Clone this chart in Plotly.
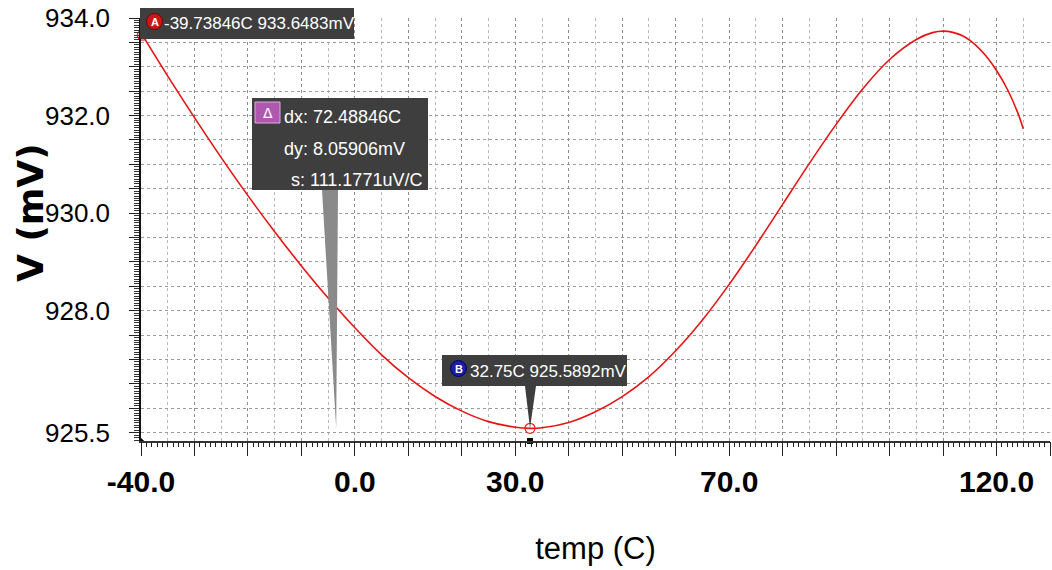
import plotly.graph_objects as go

# ---------------- data ----------------
temp_c = [-39.74, -35, -30, -25, -20, -15, -10, -5, 0, 5, 10, 15, 20, 25, 30, 32.75,
          35, 40, 45, 50, 55, 60, 65, 70, 75, 80, 85, 90, 95, 100, 105, 108, 110,
          112, 114, 116, 118, 120, 122, 124, 125]
v_mv = [933.648, 932.809, 931.957, 931.139, 930.359, 929.619, 928.919, 928.262, 927.652,
        927.097, 926.627, 926.242, 925.942, 925.727, 925.612, 925.589, 925.600, 925.710,
        925.930, 926.240, 926.650, 927.180, 927.810, 928.540, 929.340, 930.180, 931.020,
        931.820, 932.550, 933.150, 933.560, 933.700, 933.730, 933.700, 933.615, 933.455,
        933.225, 932.925, 932.545, 932.050, 931.730]

marker_names = ["A", "B"]
marker_x = [-39.73846, 32.75]
marker_y = [933.6483, 925.5892]
marker_text = ["-39.73846C 933.6483mV", "32.75C 925.5892mV"]
delta_text = ["dx: 72.48846C", "dy: 8.05906mV", "s: 111.1771uV/C"]

x_label_vals = [-40, 0, 30, 70, 120]
x_label_text = ["-40.0", "0.0", "30.0", "70.0", "120.0"]
y_label_vals = [934.0, 932.0, 930.0, 928.0, 925.5]
y_label_text = ["934.0", "932.0", "930.0", "928.0", "925.5"]

X_RANGE = [-40, 130]
Y_RANGE = [925.33, 934.0]

# ---------------- geometry ----------------
W, H = 1052, 570
ML, MR, MT, MB = 141, 2, 18, 129
PW, PH = W - ML - MR, H - MT - MB
FONT = "Liberation Sans, Arial, sans-serif"


def pp(px, py):
    return (px - ML) / PW, (H - MB - py) / PH


def dpx(x):
    return (x - X_RANGE[0]) / (X_RANGE[1] - X_RANGE[0])


def dpy(y):
    return (y - Y_RANGE[0]) / (Y_RANGE[1] - Y_RANGE[0])


x_tick_vals = list(range(-40, 131, 10))
x_tick_text = [x_label_text[x_label_vals.index(v)] if v in x_label_vals else "" for v in x_tick_vals]
y_tick_vals = [round(925.5 + 0.5 * i, 2) for i in range(18)]
y_tick_text = [y_label_text[y_label_vals.index(v)] if v in y_label_vals else "" for v in y_tick_vals]

fig = go.Figure()

fig.add_trace(go.Scatter(x=temp_c, y=v_mv, mode="lines",
                         line=dict(color="#e61414", width=1.6, shape="spline", smoothing=0.8),
                         showlegend=False))

# carrier for the fine-tick overlay axis (invisible markers)
fig.add_trace(go.Scatter(x=marker_x, y=marker_y, xaxis="x2", mode="markers",
                         marker=dict(size=1, opacity=0), hoverinfo="skip", showlegend=False))

fig.add_trace(go.Scatter(x=marker_x, y=marker_y, mode="markers",
                         marker=dict(symbol="circle-open", size=10, color="#ff2020",
                                     line=dict(width=1.3, color="#ff2020")),
                         cliponaxis=False, showlegend=False))

fig.add_trace(go.Scatter(x=marker_x, y=[Y_RANGE[0]] * len(marker_x), mode="markers",
                         marker=dict(symbol=["triangle-sw", "square"], size=6, color="black"),
                         cliponaxis=False, showlegend=False))

shapes = []
BOX = "#3e3e3e"


def rect(x0, y0, x1, y1, fill, line=None):
    a = pp(x0, y1)
    b = pp(x1, y0)
    shapes.append(dict(type="rect", xref="paper", yref="paper", x0=a[0], y0=a[1], x1=b[0], y1=b[1],
                       fillcolor=fill, line=dict(width=1 if line else 0, color=line or fill),
                       layer="above"))


def circ(cx, cy, r, fill, line):
    a = pp(cx - r, cy + r)
    b = pp(cx + r, cy - r)
    shapes.append(dict(type="circle", xref="paper", yref="paper", x0=a[0], y0=a[1], x1=b[0], y1=b[1],
                       fillcolor=fill, line=dict(width=1, color=line), layer="above"))


def wedge(xa, xb, ybase, ax_data, ay_data, fill):
    p1 = pp(xa, ybase)
    p2 = pp(xb, ybase)
    ax, ay = dpx(ax_data), dpy(ay_data)
    path = f"M {p1[0]} {p1[1]} L {p2[0]} {p2[1]} L {ax} {ay} Z"
    shapes.append(dict(type="path", xref="paper", yref="paper", path=path,
                       fillcolor=fill, line=dict(width=0), layer="above"))


# A label
rect(140, 8, 354, 39, BOX)
circ(154.5, 21.5, 8, "#c81818", "#7a0000")
# delta label
mid_x = (marker_x[0] + marker_x[1]) / 2
wedge(322, 338, 190, mid_x, marker_y[1], "#8a8a8a")
rect(252, 98, 428, 190, BOX)
rect(255, 102, 280, 123, "#b058b0", "#e0a8e0")
# B label
wedge(525, 536, 386, marker_x[1], marker_y[1], BOX)
rect(442, 355, 627, 386, BOX)
circ(458.5, 368.5, 8, "#1c1ca8", "#000060")

ann = []


def text(px, py, s, size, color="white", anchor="left", bold=False, family=FONT, angle=0):
    x, y = pp(px, py)
    ann.append(dict(x=x, y=y, xref="paper", yref="paper", text=s, showarrow=False,
                    xanchor=anchor, yanchor="middle", textangle=angle, borderpad=0,
                    font=dict(family=family, size=size, color=color,
                              weight="bold" if bold else "normal")))


text(154.5, 22, marker_names[0], 11, anchor="center", bold=True)
text(163, 23, marker_text[0], 17)
text(267.5, 113, "Δ", 14, anchor="center", family="DejaVu Sans")
text(283, 117, delta_text[0], 18)
text(283, 149, delta_text[1], 18)
text(290, 180, delta_text[2], 18)
text(458.5, 369, marker_names[1], 11, anchor="center", bold=True)
text(469, 371, marker_text[1], 17)
text(30, 213, "V (mV)", 36, color="black", anchor="center", bold=True,
     family="DejaVu Sans", angle=-90)

fig.update_layout(
    width=W, height=H,
    margin=dict(l=ML, r=MR, t=MT, b=MB),
    paper_bgcolor="white", plot_bgcolor="white",
    shapes=shapes, annotations=ann,
    xaxis=dict(
        range=X_RANGE, tickmode="array", tickvals=x_tick_vals, ticktext=x_tick_text,
        ticks="outside", ticklen=13, tickwidth=1.2, tickcolor="#222",
        tickfont=dict(family=FONT, size=30, color="black", weight="bold"),
        showgrid=True, gridcolor="#8c8c8c", gridwidth=1, griddash="dot",
        showline=True, linecolor="#333", linewidth=2, zeroline=False,
        minor=dict(dtick=5, tick0=0, ticks="", showgrid=True,
                   gridcolor="#b9b9b9", gridwidth=1, griddash="dot"),
        title=dict(text="temp (C)", font=dict(family=FONT, size=31, color="black"), standoff=40),
    ),
    xaxis2=dict(
        range=X_RANGE, overlaying="x", anchor="y", side="bottom",
        tickmode="linear", tick0=0, dtick=1, ticks="outside", ticklen=5, tickwidth=1,
        tickcolor="#222", showticklabels=False, showgrid=False, showline=False, zeroline=False,
    ),
    yaxis=dict(
        range=Y_RANGE, tickmode="array", tickvals=y_tick_vals, ticktext=y_tick_text,
        ticks="outside", ticklen=10, tickwidth=1.2, tickcolor="#222",
        tickfont=dict(family=FONT, size=26, color="black"),
        showgrid=True, gridcolor="#9a9a9a", gridwidth=1, griddash="dot",
        showline=True, linecolor="#111", linewidth=1.5, zeroline=False,
        minor=dict(dtick=0.05, tick0=925.5, ticks="outside", ticklen=5, tickwidth=1,
                   tickcolor="#333", showgrid=False),
        ticklabelstandoff=14,
    ),
)

fig.write_html("out.html")
